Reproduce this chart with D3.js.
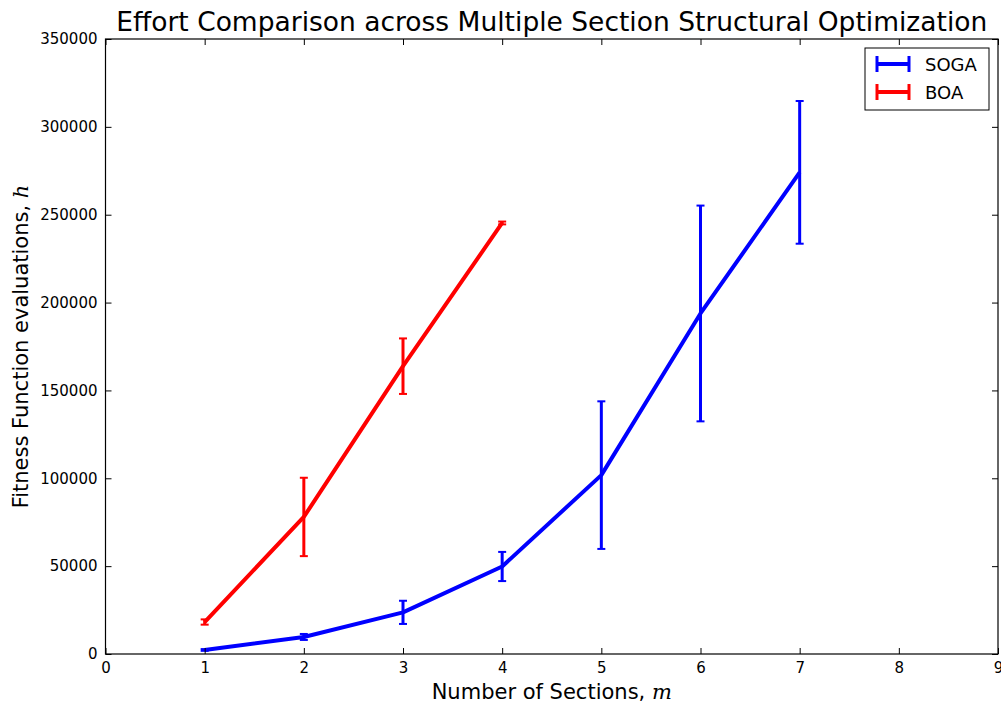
<!DOCTYPE html>
<html>
<head>
<meta charset="utf-8">
<script src="https://cdn.jsdelivr.net/npm/d3@7"></script>
<style>
  body { margin: 0; background: #fff; }
  svg { font-family: "DejaVu Sans", sans-serif; }
</style>
</head>
<body>
<svg id="chart" width="1001" height="704"></svg>
<script>
// Number of sections
const sections = [1, 2, 3, 4, 5, 6, 7];
// SOGA mean evaluations and error (±)
const sogaMean = [2300, 9700, 23700, 49800, 101800, 193800, 274100];
const sogaErr  = [500, 1700, 6600, 8300, 42000, 61400, 40600];
// BOA mean evaluations and error (±)
const boaSections = [1, 2, 3, 4];
const boaMean = [18200, 78000, 163800, 245300];
const boaErr  = [1500, 22300, 15800, 800];

const xTicks = [0, 1, 2, 3, 4, 5, 6, 7, 8, 9];
const yTicks = [0, 50000, 100000, 150000, 200000, 250000, 300000, 350000];

const seriesNames = ["SOGA", "BOA"];
const seriesColors = ["#0000ff", "#ff0000"];

const svg = d3.select("#chart");
const margin = { left: 105.5, right: 1001 - 998, top: 39, bottom: 704 - 654 };
const W = 1001, H = 704;

const x = d3.scaleLinear().domain([0, 9]).range([margin.left, W - margin.right]);
const y = d3.scaleLinear().domain([0, 350000]).range([H - margin.bottom, margin.top]);

const series = [
  { name: seriesNames[0], color: seriesColors[0], data: sections.map((s, i) => ({ x: s, y: sogaMean[i], e: sogaErr[i] })) },
  { name: seriesNames[1], color: seriesColors[1], data: boaSections.map((s, i) => ({ x: s, y: boaMean[i], e: boaErr[i] })) }
];

const plot = svg.append("g");
const line = d3.line().x(d => x(d.x)).y(d => y(d.y));

series.forEach(s => {
  const g = plot.append("g");
  g.append("path")
    .datum(s.data)
    .attr("d", line)
    .attr("fill", "none")
    .attr("stroke", s.color)
    .attr("stroke-width", 4)
    .attr("stroke-linejoin", "round");
  const eb = g.selectAll(".eb").data(s.data).enter().append("g");
  eb.append("line")
    .attr("x1", d => x(d.x)).attr("x2", d => x(d.x))
    .attr("y1", d => y(d.y - d.e)).attr("y2", d => y(d.y + d.e))
    .attr("stroke", s.color).attr("stroke-width", 3);
  [-1, 1].forEach(sg => {
    eb.append("line")
      .attr("x1", d => x(d.x) - 4).attr("x2", d => x(d.x) + 4)
      .attr("y1", d => y(d.y + sg * d.e)).attr("y2", d => y(d.y + sg * d.e))
      .attr("stroke", s.color).attr("stroke-width", 2);
  });
});

// Axes with inward ticks on all four sides
const fontSize = 15;
const bottomAxis = d3.axisBottom(x).tickValues(xTicks).tickSize(-6).tickPadding(8).tickFormat(d3.format("d"));
const topAxis = d3.axisTop(x).tickValues(xTicks).tickSize(-6).tickFormat("");
const leftAxis = d3.axisLeft(y).tickValues(yTicks).tickSize(-6).tickPadding(8).tickFormat(d3.format("d"));
const rightAxis = d3.axisRight(y).tickValues(yTicks).tickSize(-6).tickFormat("");

function styleAxis(g) {
  g.select(".domain").remove();
  g.selectAll(".tick line").attr("stroke", "#000").attr("stroke-width", 1);
  g.selectAll(".tick text").attr("fill", "#000").style("font-size", fontSize + "px").style("font-family", "DejaVu Sans");
}

svg.append("g").attr("transform", `translate(0,${H - margin.bottom})`).call(bottomAxis).call(styleAxis);
svg.append("g").attr("transform", `translate(0,${margin.top})`).call(topAxis).call(styleAxis);
svg.append("g").attr("transform", `translate(${margin.left},0)`).call(leftAxis).call(styleAxis);
svg.append("g").attr("transform", `translate(${W - margin.right},0)`).call(rightAxis).call(styleAxis);

// Frame
svg.append("rect")
  .attr("x", margin.left).attr("y", margin.top)
  .attr("width", W - margin.right - margin.left)
  .attr("height", H - margin.bottom - margin.top)
  .attr("fill", "none").attr("stroke", "#000").attr("stroke-width", 1.2);

// Title
svg.append("text")
  .attr("x", (margin.left + W - margin.right) / 2).attr("y", 31)
  .attr("text-anchor", "middle")
  .style("font-size", "26.5px")
  .text("Effort Comparison across Multiple Section Structural Optimization");

// X label
const xl = svg.append("text")
  .attr("x", (margin.left + W - margin.right) / 2).attr("y", 699)
  .attr("text-anchor", "middle")
  .style("font-size", "21px");
xl.append("tspan").text("Number of Sections, ");
xl.append("tspan").attr("font-style", "italic").attr("font-family", "DejaVu Serif").text("m");

// Y label
const yl = svg.append("text")
  .attr("transform", `translate(28,${(margin.top + H - margin.bottom) / 2}) rotate(-90)`)
  .attr("text-anchor", "middle")
  .style("font-size", "21px");
yl.append("tspan").text("Fitness Function evaluations, ");
yl.append("tspan").attr("font-style", "italic").attr("font-family", "DejaVu Serif").text("h");

// Legend
const lg = svg.append("g").attr("transform", "translate(865,48)");
lg.append("rect").attr("width", 124).attr("height", 62)
  .attr("fill", "#fff").attr("stroke", "#000").attr("stroke-width", 1);
series.forEach((s, i) => {
  const cy = 16 + i * 28;
  const r = lg.append("g").attr("transform", `translate(0,${cy})`);
  r.append("line").attr("x1", 12).attr("x2", 44).attr("y1", 0).attr("y2", 0)
    .attr("stroke", s.color).attr("stroke-width", 4);
  [12, 44].forEach(cx => r.append("line").attr("x1", cx).attr("x2", cx).attr("y1", -8).attr("y2", 8)
    .attr("stroke", s.color).attr("stroke-width", 3));
  r.append("text").attr("x", 60).attr("y", 7).style("font-size", "18px").text(s.name);
});
</script>
</body>
</html>
